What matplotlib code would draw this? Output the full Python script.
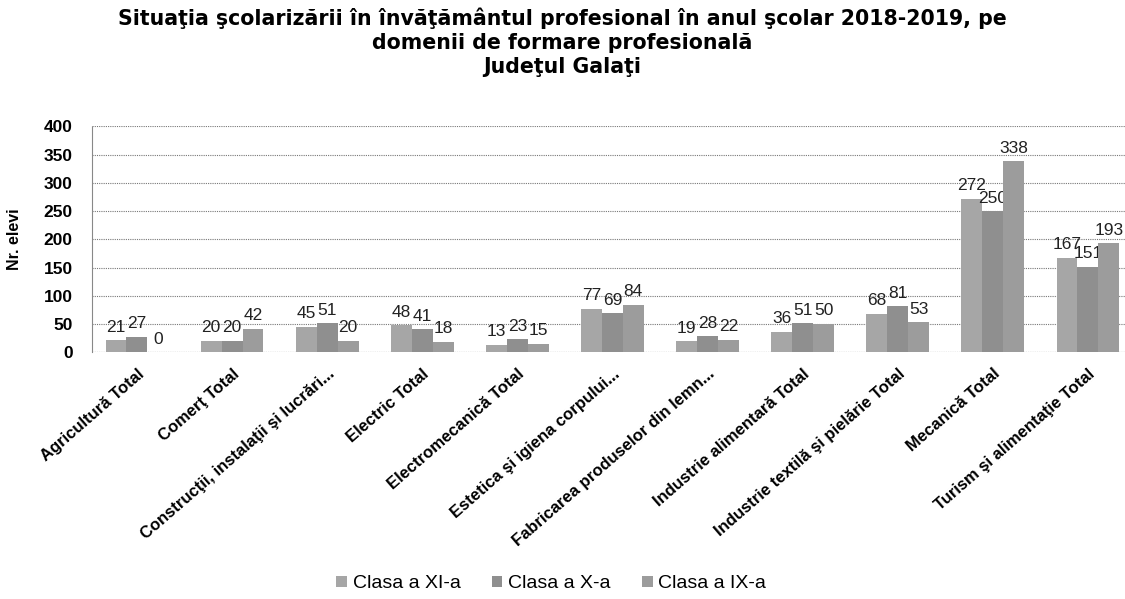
import numpy as np
import matplotlib
matplotlib.use("Agg")
import matplotlib.pyplot as plt

plt.rcParams["font.family"] = ["Liberation Sans", "DejaVu Sans"]

# ---- data ----
categories = [
    "Agricultură Total",
    "Comerţ Total",
    "Construcţii, instalaţii şi lucrări...",
    "Electric Total",
    "Electromecanică Total",
    "Estetica şi igiena corpului...",
    "Fabricarea produselor din lemn...",
    "Industrie alimentară Total",
    "Industrie textilă şi pielărie Total",
    "Mecanică Total",
    "Turism şi alimentaţie Total",
]
clasa_xi = [21, 20, 45, 48, 13, 77, 19, 36, 68, 272, 167]
clasa_x = [27, 20, 51, 41, 23, 69, 28, 51, 81, 250, 151]
clasa_ix = [0, 42, 20, 18, 15, 84, 22, 50, 53, 338, 193]
series_names = ["Clasa a XI-a", "Clasa a X-a", "Clasa a IX-a"]
y_ticks = [0, 50, 100, 150, 200, 250, 300, 350, 400]

colors = ["#a6a6a6", "#8f8f8f", "#9c9c9c"]

fig = plt.figure(figsize=(11.25, 5.99), dpi=100)
ax = fig.add_axes([0.082, 0.412, 0.918, 0.377])

x = np.arange(len(categories))
w = 0.22
for i, (vals, name) in enumerate(zip([clasa_xi, clasa_x, clasa_ix], series_names)):
    pos = x + (i - 1) * w
    bars = ax.bar(pos, vals, width=w, color=colors[i], label=name, zorder=3)
    for b, v in zip(bars, vals):
        ax.annotate(str(v), (b.get_x() + b.get_width() / 2, b.get_height()),
                    xytext=(0, 4), textcoords="offset points",
                    ha="center", va="bottom", fontsize=12.5, color="#222222")

ax.set_xlim(-0.47, 10.39)
ax.set_ylim(0, 400)
ax.set_yticks(y_ticks)
ax.set_yticklabels([str(t) for t in y_ticks], fontsize=12.5, fontweight="bold")
ax.yaxis.grid(True, linestyle=(0, (1, 1)), color="#777777", linewidth=0.8, zorder=0)
ax.set_axisbelow(True)
ax.tick_params(axis="y", length=0, pad=14)
ax.tick_params(axis="x", length=0, pad=10)
for s in ["top", "right", "bottom"]:
    ax.spines[s].set_visible(False)
ax.spines["left"].set_color("#888888")
ax.spines["left"].set_linestyle((0, (1, 1)))
ax.axhline(0, color="#777777", linewidth=0.8, linestyle=(0, (1, 1)), zorder=2)

ax.set_xticks(x)
ax.set_xticklabels(categories, rotation=41, ha="right", rotation_mode="anchor",
                   fontsize=12, fontweight="bold")
ax.set_ylabel("Nr. elevi", fontsize=11.5, fontweight="bold", labelpad=4)
ax.yaxis.set_label_coords(-0.068, 0.5)

fig.text(0.5, 0.988,
         "Situaţia şcolarizării în învăţământul profesional în anul şcolar 2018-2019, pe\n"
         "domenii de formare profesională\nJudeţul Galaţi",
         ha="center", va="top", fontsize=14.8, fontweight="bold", linespacing=1.25,
         family=["DejaVu Sans"])

fig.legend(loc="lower center", bbox_to_anchor=(0.49, -0.018), ncol=3, frameon=False,
           fontsize=14, handlelength=0.55, handleheight=0.55, handletextpad=0.3,
           columnspacing=1.6)

fig.savefig("out.png", dpi=100)
